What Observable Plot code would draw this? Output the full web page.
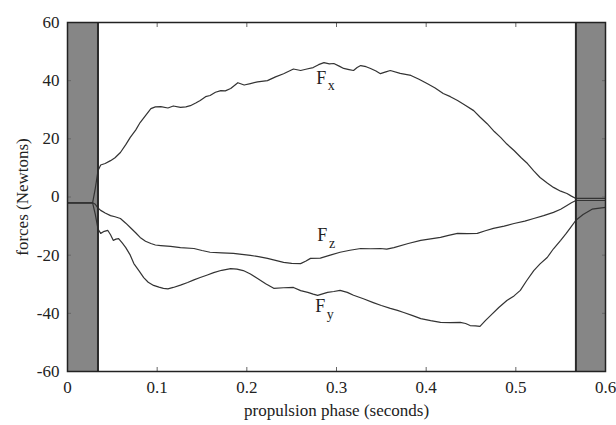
<!DOCTYPE html>
<html><head><meta charset="utf-8">
<script src="https://cdn.jsdelivr.net/npm/d3@7"></script>
<script src="https://cdn.jsdelivr.net/npm/@observablehq/plot@0.6"></script>
<style>body{margin:0;background:#fff}</style></head>
<body><div id="chart"></div>
<script>
const xTicks = [0, 0.1, 0.2, 0.3, 0.4, 0.5, 0.6];
const yTicks = [-60, -40, -20, 0, 20, 40, 60];
const bands = [{start: 0, end: 0.034}, {start: 0.567, end: 0.6}];

const fx = [[0,-2],[0.028,-2],[0.031,3],[0.034,9],[0.037,11],[0.042,11.5],[0.048,12.5],[0.053,13.5],[0.059,15.3],[0.065,18],[0.070,20.5],[0.076,23],[0.081,25.6],[0.087,28],[0.093,30.4],[0.098,31],[0.104,31.1],[0.112,30.6],[0.118,31.3],[0.126,30.8],[0.132,31],[0.137,31.4],[0.143,32.3],[0.148,33.2],[0.154,34.5],[0.159,34.9],[0.165,36],[0.171,36.6],[0.176,36.5],[0.182,37.3],[0.19,39.3],[0.197,38.5],[0.204,39],[0.212,39.6],[0.223,40],[0.232,41.3],[0.241,42.4],[0.252,44],[0.26,43.5],[0.267,44],[0.274,44.5],[0.280,45.5],[0.286,46.2],[0.292,45.8],[0.297,45.9],[0.303,45],[0.308,44.2],[0.314,43.8],[0.319,43.5],[0.323,44.5],[0.327,45.2],[0.333,44.8],[0.338,44.2],[0.344,43.3],[0.349,42.4],[0.355,43],[0.36,43.5],[0.371,42.5],[0.383,41.8],[0.392,40.5],[0.401,39],[0.41,37.5],[0.419,35.6],[0.427,34.5],[0.435,33.2],[0.444,31.5],[0.453,29.7],[0.46,27.5],[0.468,25.2],[0.476,22.5],[0.483,20.5],[0.49,18.2],[0.498,16],[0.506,13.5],[0.513,11.5],[0.52,9],[0.527,6.7],[0.535,4.8],[0.542,3.3],[0.55,2],[0.557,1.2],[0.562,0.3],[0.567,-0.5],[0.6,-0.5]];

const fz = [[0,-2],[0.028,-2],[0.031,-2.5],[0.034,-3.8],[0.037,-4.6],[0.042,-5.5],[0.048,-6.4],[0.053,-6.8],[0.059,-7.4],[0.065,-9],[0.070,-10.5],[0.076,-12.3],[0.081,-13.9],[0.087,-15.2],[0.093,-16],[0.098,-16.5],[0.104,-16.7],[0.115,-17],[0.126,-17.4],[0.141,-17.7],[0.15,-18.4],[0.159,-19],[0.172,-19.2],[0.185,-19.4],[0.204,-20.1],[0.213,-20.5],[0.223,-21.1],[0.232,-21.8],[0.241,-22.5],[0.25,-22.8],[0.26,-22.9],[0.266,-22],[0.271,-21.1],[0.282,-21],[0.293,-20],[0.304,-19],[0.315,-18.3],[0.327,-17.7],[0.338,-17.8],[0.349,-17.7],[0.356,-17.9],[0.364,-17.4],[0.38,-16],[0.394,-14.9],[0.405,-14.4],[0.416,-13.9],[0.425,-13.2],[0.435,-12.5],[0.446,-12.6],[0.457,-12.5],[0.466,-11.6],[0.475,-10.8],[0.487,-10],[0.498,-9.1],[0.51,-8.3],[0.52,-7.4],[0.531,-6.4],[0.542,-5.3],[0.55,-4.2],[0.557,-2.9],[0.562,-2],[0.567,-1.2],[0.6,-1.2]];

const fy = [[0,-2],[0.028,-2],[0.031,-6],[0.034,-11],[0.037,-12.5],[0.041,-11.8],[0.045,-11.5],[0.048,-13],[0.051,-14.9],[0.054,-14.5],[0.057,-14.3],[0.061,-15.8],[0.065,-17.4],[0.07,-20],[0.074,-22.9],[0.08,-25.5],[0.085,-27.7],[0.09,-29.3],[0.096,-30.4],[0.102,-31],[0.107,-31.4],[0.112,-31.6],[0.118,-31.1],[0.126,-30.3],[0.134,-29.4],[0.141,-28.5],[0.148,-27.7],[0.156,-26.8],[0.163,-26],[0.172,-25.2],[0.182,-24.6],[0.189,-24.8],[0.196,-25.3],[0.204,-26.5],[0.212,-28],[0.221,-29.8],[0.23,-31.4],[0.241,-31.2],[0.252,-31.1],[0.26,-32.2],[0.268,-32.8],[0.274,-33.4],[0.279,-33.8],[0.29,-32.8],[0.297,-32.5],[0.304,-32.1],[0.312,-32.8],[0.319,-33.8],[0.33,-35],[0.341,-36.3],[0.35,-37.3],[0.36,-38.3],[0.368,-39],[0.375,-39.7],[0.385,-40.8],[0.394,-41.8],[0.405,-42.5],[0.416,-43.1],[0.427,-43.2],[0.438,-43.1],[0.444,-43.5],[0.449,-44.2],[0.455,-44.3],[0.46,-44.5],[0.466,-42.5],[0.472,-40.7],[0.481,-38],[0.49,-35.6],[0.498,-34],[0.505,-32.1],[0.512,-28.8],[0.52,-25.3],[0.527,-23],[0.535,-20.8],[0.542,-17.8],[0.55,-14.9],[0.556,-12.6],[0.561,-10.5],[0.567,-8],[0.575,-6],[0.585,-4.2],[0.6,-3.6]];

const labelMain = ["F", "F", "F"];
const labelSub = ["x", "z", "y"];
const labelT = [0.283, 0.284, 0.282];
const labelF = [41, -13.2, -37.6];

const series = [
  ...fx.map(([t, f]) => ({t, f, s: "Fx"})),
  ...fz.map(([t, f]) => ({t, f, s: "Fz"})),
  ...fy.map(([t, f]) => ({t, f, s: "Fy"}))
];
const labels = labelMain.map((m, i) => ({m, sub: labelSub[i], t: labelT[i], f: labelF[i]}));
const edges = [bands[0].end, bands[1].start];

const chart = Plot.plot({
  width: 616, height: 425,
  marginLeft: 67, marginRight: 11, marginTop: 22, marginBottom: 54,
  x: {domain: [0, 0.6]},
  y: {domain: [-60, 60]},
  style: {fontFamily: "'Liberation Serif', 'DejaVu Serif', serif", fontSize: "17px", color: "#222", background: "#fff"},
  marks: [
    Plot.rect(bands, {x1: "start", x2: "end", fill: "#868686"}),
    Plot.line(series, {x: "t", y: "f", z: "s", stroke: "#333", strokeWidth: 1.2}),
    Plot.ruleX(edges, {stroke: "#2a2a2a", strokeWidth: 2}),
    Plot.text(labels, {x: "t", y: "f", text: "m", fontSize: 18, fill: "#222"}),
    Plot.text(labels, {x: "t", y: "f", text: "sub", fontSize: 14, dx: 10, dy: 8, fill: "#222"}),
    Plot.axisX({ticks: xTicks, tickSize: 0, tickPadding: 9, tickFormat: d => String(d), label: "propulsion phase (seconds)", labelAnchor: "center", labelArrow: "none", labelOffset: 44}),
    Plot.axisX({ticks: xTicks, anchor: "bottom", tickSize: -4, stroke: "#666", tickFormat: () => "", label: null}),
    Plot.axisX({ticks: xTicks, anchor: "top", tickSize: -4, stroke: "#666", tickFormat: () => "", label: null}),
    Plot.axisY({ticks: yTicks, tickSize: 0, tickPadding: 8, tickFormat: d => String(d), label: "forces (Newtons)", labelAnchor: "center", labelArrow: "none", labelOffset: 52}),
    Plot.axisY({ticks: yTicks, anchor: "left", tickSize: -4, stroke: "#666", tickFormat: () => "", label: null}),
    Plot.axisY({ticks: yTicks, anchor: "right", tickSize: -4, stroke: "#666", tickFormat: () => "", label: null}),
    Plot.frame({stroke: "#222", strokeWidth: 1.5})
  ]
});
document.getElementById("chart").append(chart);
</script>
</body></html>
